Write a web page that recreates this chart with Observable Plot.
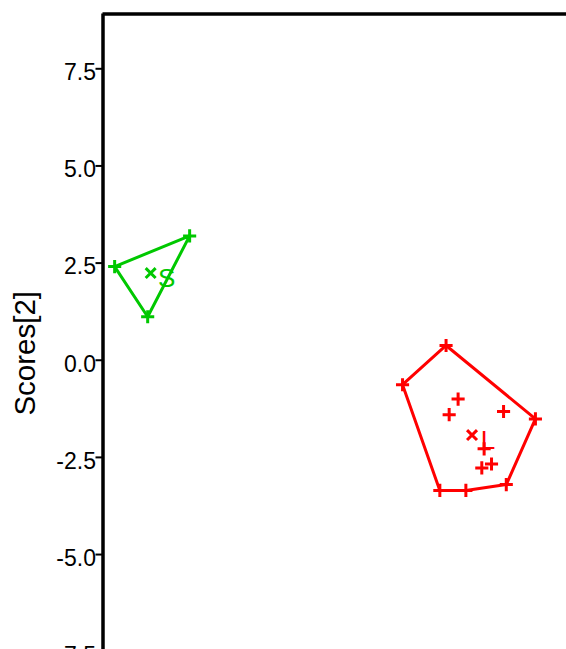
<!DOCTYPE html>
<html>
<head>
<meta charset="utf-8">
<script src="https://cdn.jsdelivr.net/npm/d3@7"></script>
<script src="https://cdn.jsdelivr.net/npm/@observablehq/plot@0.6"></script>
<style>
  html, body { margin: 0; padding: 0; background: #fff; }
  #chart { width: 566px; height: 649px; overflow: hidden; }
  #chart svg { font-family: "Liberation Sans", Arial, sans-serif; }
  #chart g[aria-label="y-axis label"] { font-size: 29.5px; }
</style>
</head>
<body>
<div id="chart"></div>
<script>
// Site scores on the first two axes, grouped by habitat class
const group = ["S", "S", "S",
  "L", "L", "L", "L", "L", "L", "L", "L", "L", "L", "L", "L"];
const score1 = [-4.70, -2.77, -3.85,
  3.83, 2.71, 6.13, 3.67, 4.34, 5.38, 4.14, 3.91, 5.31, 4.81, 5.00, 4.75];
const score2 = [2.41, 3.20, 1.12,
  0.38, -0.63, -1.51, -3.35, -3.35, -3.20, -1.00, -1.40, -1.32, -2.28, -2.67, -2.77];

const groupNames = ["L", "S"];
const groupColors = ["#FF0000", "#00C800"];
const yTicks = [-7.5, -5.0, -2.5, 0.0, 2.5, 5.0, 7.5];
const xDomain = [-5, 6.93];
const yDomain = [-8.55, 8.91];

const sites = group.map((g, i) => ({group: g, s1: score1[i], s2: score2[i]}));

const chart = Plot.plot({
  width: 566,
  height: 692,
  marginTop: 13.5,
  marginLeft: 102.5,
  marginRight: 0,
  marginBottom: 0,
  style: {background: "#fff", color: "#000", overflow: "visible"},
  x: {domain: xDomain, axis: null},
  y: {domain: yDomain, axis: null},
  color: {domain: groupNames, range: groupColors},
  marks: [
    // convex hull around each group's sites
    Plot.hull(sites, {x: "s1", y: "s2", z: "group", stroke: "group", strokeWidth: 3}),
    // individual sites
    Plot.dot(sites, {x: "s1", y: "s2", stroke: "group", symbol: "plus", r: 4.3, strokeWidth: 3}),
    // group centroids
    Plot.dot(sites, Plot.groupZ({x: "mean", y: "mean"},
      {x: "s1", y: "s2", z: "group", stroke: "group", symbol: "times", r: 4.6, strokeWidth: 3})),
    Plot.text(sites, Plot.groupZ({x: "mean", y: "mean", text: "first"},
      {x: "s1", y: "s2", z: "group", text: "group", fill: "group", fontSize: 26, dx: 16, dy: 6})),
    // panel border (left and top)
    Plot.ruleX([xDomain[0]], {stroke: "#000", strokeWidth: 3.5}),
    Plot.ruleY([yDomain[1]], {stroke: "#000", strokeWidth: 3.5}),
    // tick marks
    Plot.axisY({
      ticks: yTicks,
      tickFormat: () => "",
      tickSize: 7,
      strokeWidth: 2,
      label: null
    }),
    // tick labels, set slightly below their ticks
    Plot.axisY({
      ticks: yTicks,
      tickFormat: d => d.toFixed(1),
      tickSize: 0,
      tickPadding: 7,
      fontSize: 23,
      dy: 4,
      label: null
    }),
    Plot.axisY({
      ticks: [],
      tickSize: 0,
      label: "Scores[2]",
      labelAnchor: "center",
      labelArrow: "none",
      labelOffset: 89
    })
  ]
});

document.getElementById("chart").appendChild(chart);
</script>
</body>
</html>
